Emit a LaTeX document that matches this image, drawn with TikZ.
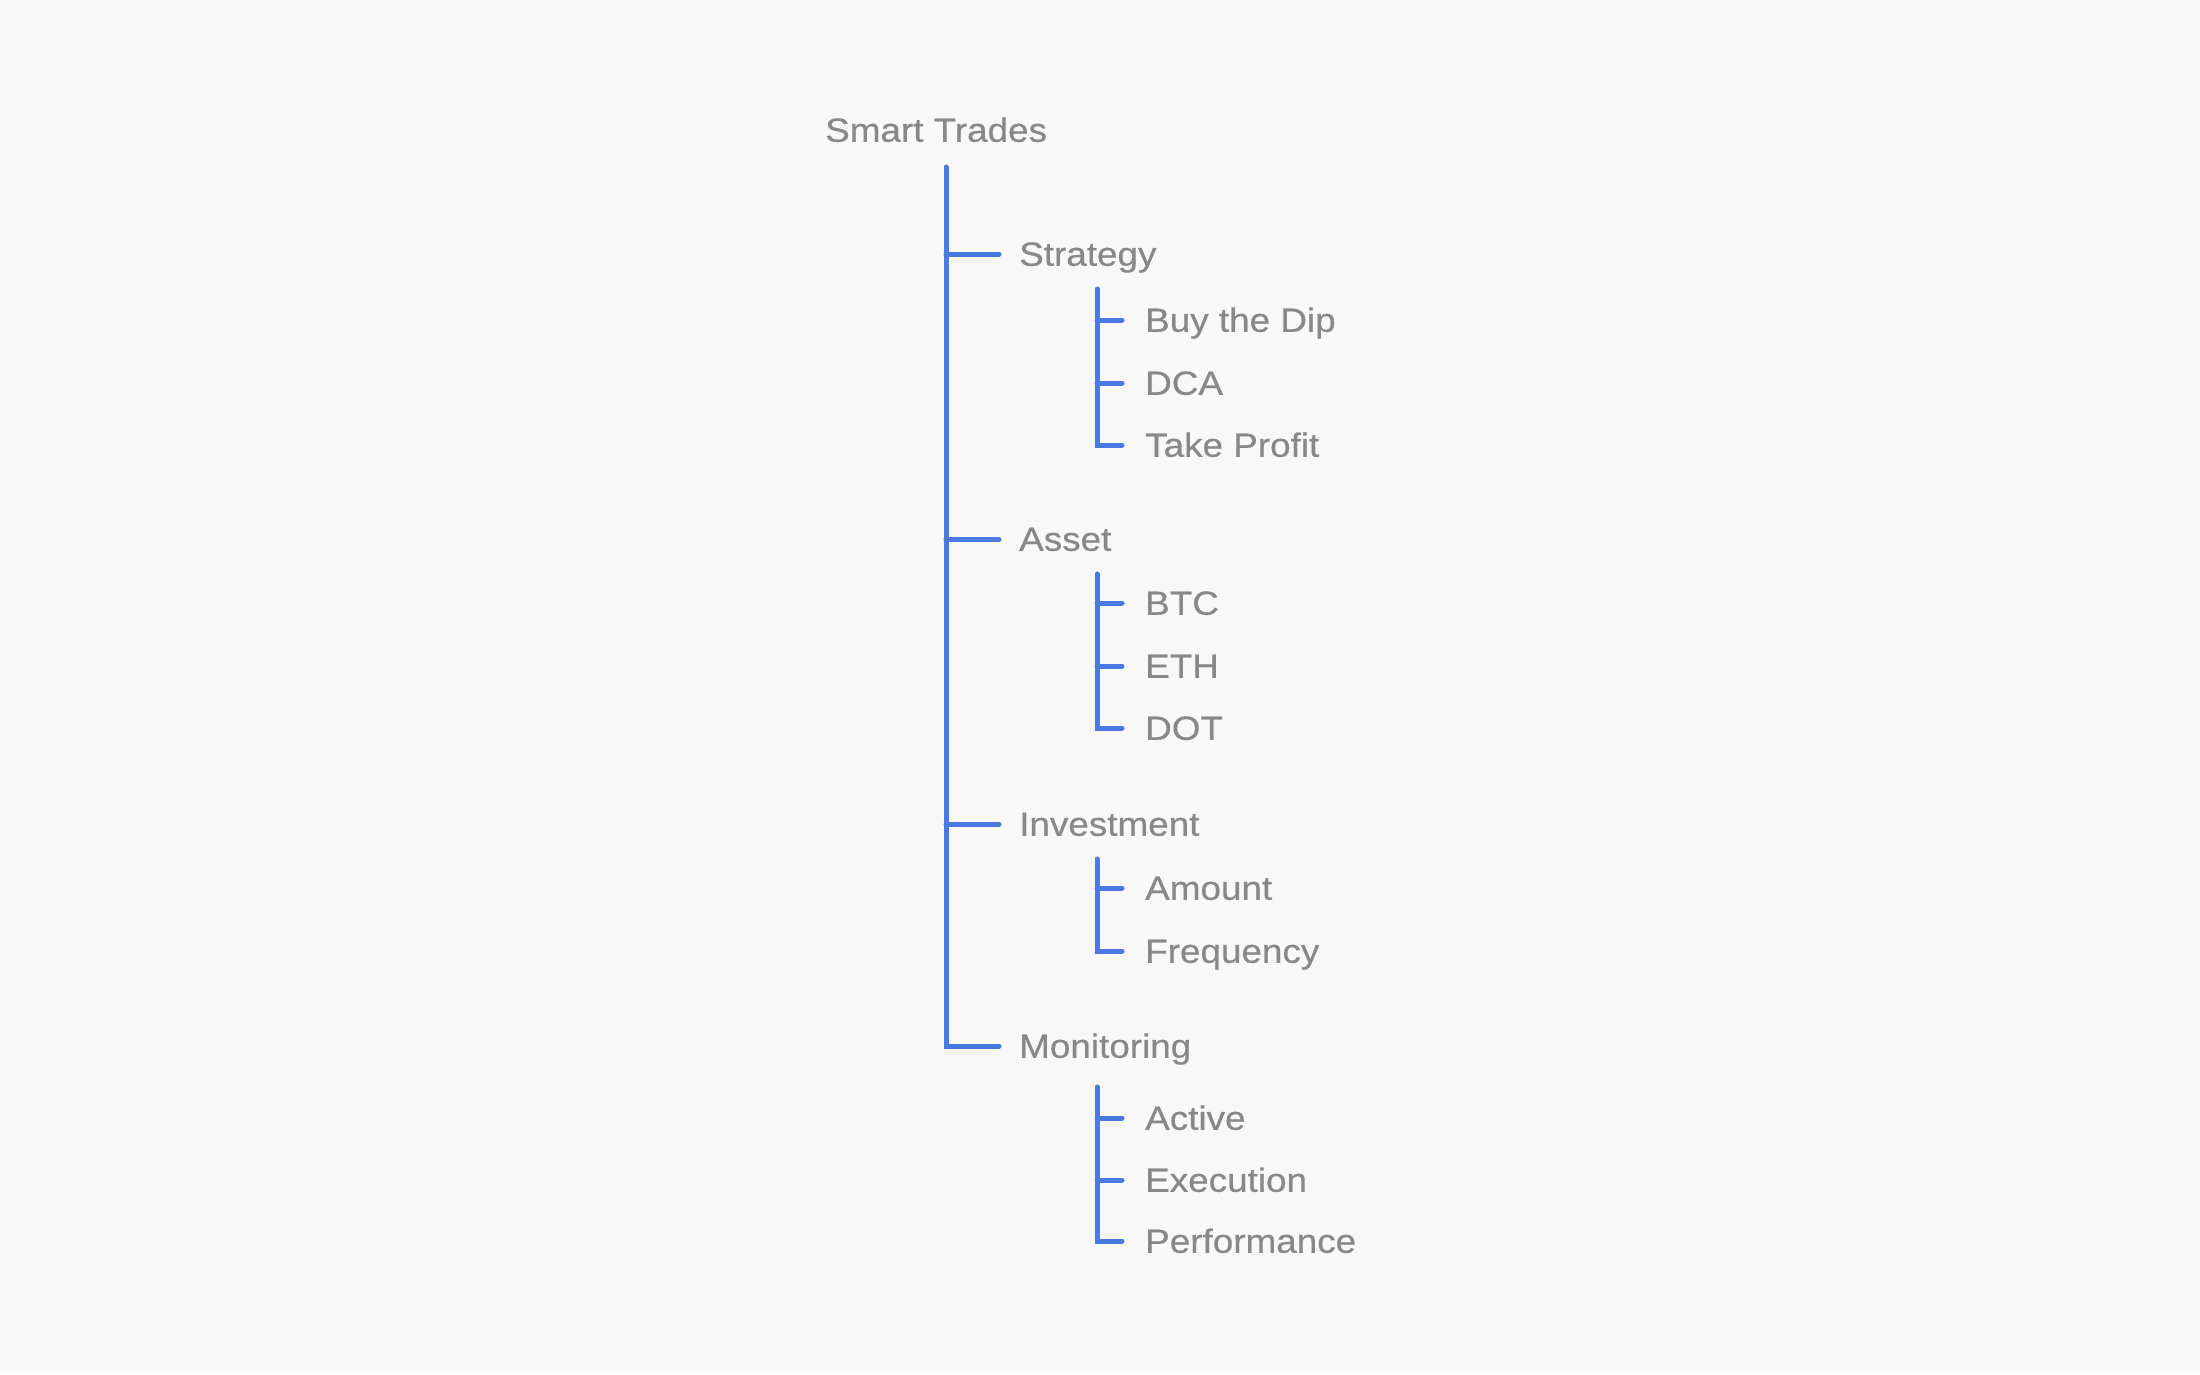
\documentclass[tikz,border=0pt]{standalone}
\usepackage{fontspec}
\setmainfont{Liberation Sans}[FakeStretch=1.1,FakeBold=0.5]
\definecolor{bgcol}{HTML}{F8F8F8}
\definecolor{treeblue}{HTML}{4A7AE0}
\definecolor{txtgray}{HTML}{888888}
\begin{document}
\begin{tikzpicture}[x=1pt,y=-1pt,
  lbl/.style={anchor=west, inner sep=0pt, text height=23.5pt, text depth=0pt,
    font=\fontsize{33.5}{38}\selectfont, text=txtgray},
  branch/.style={draw=treeblue, line width=5pt, line cap=round, line join=miter}]
\fill[bgcol] (0,0) rectangle (2200,1374);
\useasboundingbox (0,0) rectangle (2200,1374);
% labels
\node[lbl] (root) at (825,130) {Smart Trades};
\node[lbl] (strat) at (1019,254) {Strategy};
\node[lbl] (dip) at (1145,320) {Buy the Dip};
\node[lbl] (dca) at (1145,383) {DCA};
\node[lbl] (tp) at (1145,445) {Take Profit};
\node[lbl] (asset) at (1019,539) {Asset};
\node[lbl] (btc) at (1145,603) {BTC};
\node[lbl] (eth) at (1145,666) {ETH};
\node[lbl] (dot) at (1145,728) {DOT};
\node[lbl] (inv) at (1019,824) {Investment};
\node[lbl] (amt) at (1145,888) {Amount};
\node[lbl] (freq) at (1145,951) {Frequency};
\node[lbl] (mon) at (1019,1046) {Monitoring};
\node[lbl] (act) at (1145,1118) {Active};
\node[lbl] (exe) at (1145,1180) {Execution};
\node[lbl] (perf) at (1145,1241) {Performance};
% trunk tops
\coordinate (t0) at (946,167);
\coordinate (s1) at (1097,289);
\coordinate (s2) at (1097,574);
\coordinate (s3) at (1097,859);
\coordinate (s4) at (1097,1087);
% main trunk
\draw[branch] (t0) |- ([xshift=-20pt]mon.west);
\foreach \n in {strat,asset,inv}
  \draw[branch] (t0 |- \n.west) -- ([xshift=-20pt]\n.west);
% sub trees
\draw[branch] (s1) |- ([xshift=-23pt]tp.west);
\foreach \n in {dip,dca}
  \draw[branch] (s1 |- \n.west) -- ([xshift=-23pt]\n.west);
\draw[branch] (s2) |- ([xshift=-23pt]dot.west);
\foreach \n in {btc,eth}
  \draw[branch] (s2 |- \n.west) -- ([xshift=-23pt]\n.west);
\draw[branch] (s3) |- ([xshift=-23pt]freq.west);
\draw[branch] (s3 |- amt.west) -- ([xshift=-23pt]amt.west);
\draw[branch] (s4) |- ([xshift=-23pt]perf.west);
\foreach \n in {act,exe}
  \draw[branch] (s4 |- \n.west) -- ([xshift=-23pt]\n.west);
\end{tikzpicture}
\end{document}
